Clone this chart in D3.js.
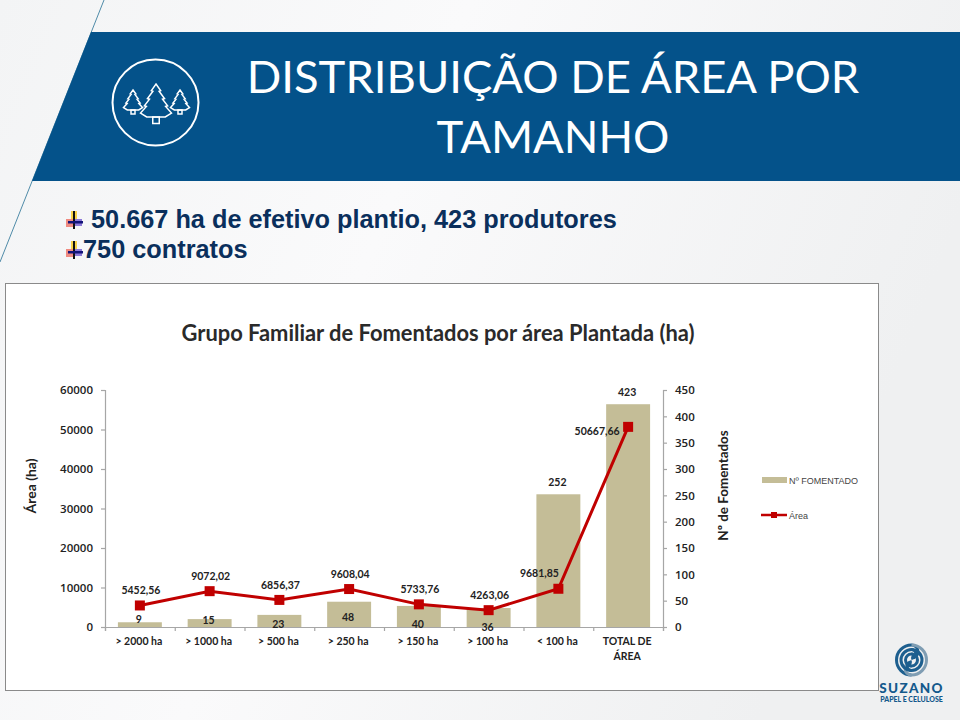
<!DOCTYPE html>
<html>
<head>
<meta charset="UTF-8">
<title>Distribuição de área por tamanho</title>
<script src="https://d3js.org/d3.v7.min.js"></script>
<style>
  html, body { margin: 0; padding: 0; background: #f4f5f6; }
  svg { display: block; }
  text { font-family: Lato, sans-serif; }
</style>
</head>
<body>
<svg id="slide" width="960" height="720"></svg>
<script>
const categories = ["> 2000 ha", "> 1000 ha", "> 500 ha", "> 250 ha", "> 150 ha", "> 100 ha", "< 100 ha", "TOTAL DE ÁREA"];
const fomentados = [9, 15, 23, 48, 40, 36, 252, 423];
const area = [5452.56, 9072.02, 6856.37, 9608.04, 5733.76, 4263.06, 9681.85, 50667.66];
const areaTicks = [0, 10000, 20000, 30000, 40000, 50000, 60000];
const fomentadosTicks = [0, 50, 100, 150, 200, 250, 300, 350, 400, 450];
const titleLines = ["DISTRIBUIÇÃO DE ÁREA POR", "TAMANHO"];
const bullets = ["50.667 ha de efetivo plantio, 423 produtores", "750 contratos"];

// ajustes finos dos rótulos (dx, dy em relação à posição padrão)
const areaLabelShift = { 6: [-19, -1], 7: [-31, 19] };
const barLabelY = { 0: 619, 1: 620, 2: 624, 3: 617, 4: 624, 5: 627 };

const svg = d3.select("#slide");
const defs = svg.append("defs");
const grad = defs.append("linearGradient").attr("id", "bg").attr("x1", 0).attr("x2", 1).attr("y1", 0).attr("y2", 0.3);
grad.append("stop").attr("offset", 0).attr("stop-color", "#f3f4f5");
grad.append("stop").attr("offset", 0.45).attr("stop-color", "#fafafb");
grad.append("stop").attr("offset", 1).attr("stop-color", "#eff0f1");

svg.append("rect").attr("width", 960).attr("height", 720).attr("fill", "url(#bg)");

// faixa do título
svg.append("line").attr("x1", 104).attr("y1", 0).attr("x2", 0).attr("y2", 262)
  .attr("stroke", "#4f8ba8").attr("stroke-width", 1);
svg.append("path").attr("d", "M91,32H960V181H32Z").attr("fill", "#04528a");

svg.selectAll(".titulo").data(titleLines).enter().append("text")
  .attr("class", "titulo")
  .attr("x", 553)
  .attr("y", (d, i) => 93 + i * 60)
  .attr("text-anchor", "middle")
  .attr("fill", "#fff")
  .style("font-weight", 400)
  .style("font-size", "45.4px")
  .text(d => d);

// ícone das árvores
const icon = svg.append("g").attr("fill", "none").attr("stroke", "#fff");
icon.append("circle").attr("cx", 155.5).attr("cy", 102.5).attr("r", 43).attr("stroke-width", 2);
const treeShape = [[0, 0], [.3, .2], [.2, .22], [.55, .44], [.42, .46], [.75, .66], [.62, .68], [1, .88], [.6, 1]];
function tree(cx, y0, halfW, h, trunk) {
  const rightSide = treeShape.map(p => [cx + p[0] * halfW, y0 + p[1] * h]);
  const leftSide = treeShape.slice(1).reverse().map(p => [cx - p[0] * halfW, y0 + p[1] * h]);
  icon.append("path").attr("d", d3.line()(rightSide.concat(leftSide)) + "Z").attr("stroke-width", 1.5);
  icon.append("rect").attr("x", cx - trunk / 2).attr("y", y0 + h).attr("width", trunk).attr("height", trunk)
    .attr("stroke-width", 1.5);
}
tree(156, 84, 15.5, 33, 6.5);
tree(133, 90, 9.5, 20, 4);
tree(180, 90, 9.5, 20, 4);

// marcadores e texto dos tópicos
const bulletRows = svg.selectAll(".topico").data(bullets).enter().append("g")
  .attr("class", "topico")
  .attr("transform", (d, i) => `translate(0,${i * 30})`);
bulletRows.append("rect").attr("x", 71).attr("y", 211).attr("width", 6).attr("height", 9).attr("fill", "#f7d34a");
bulletRows.append("rect").attr("x", 66).attr("y", 219).attr("width", 9).attr("height", 8).attr("fill", "#f08a80");
bulletRows.append("rect").attr("x", 74).attr("y", 219).attr("width", 8).attr("height", 7).attr("fill", "#8d7ad8");
bulletRows.append("rect").attr("x", 73).attr("y", 211).attr("width", 2).attr("height", 18).attr("fill", "#111");
bulletRows.append("rect").attr("x", 68).attr("y", 221).attr("width", 15).attr("height", 2.5).attr("fill", "#14147a");
bulletRows.append("text")
  .attr("x", (d, i) => i === 0 ? 91 : 83)
  .attr("y", 228)
  .attr("fill", "#0a2f5c")
  .style("font-family", "'Liberation Sans', sans-serif")
  .style("font-weight", 700)
  .style("font-size", "25.3px")
  .text(d => d);

// quadro do gráfico
svg.append("rect").attr("x", 5.5).attr("y", 283.5).attr("width", 873).attr("height", 407)
  .attr("fill", "#fff").attr("stroke", "#8a8a8a");

svg.append("text").attr("x", 438).attr("y", 341).attr("text-anchor", "middle")
  .attr("fill", "#2a2a2a")
  .style("font-weight", 700).style("font-size", "21.9px")
  .text("Grupo Familiar de Fomentados por área Plantada (ha)");

const plotLeft = 105, plotRight = 663, plotTop = 390, plotBottom = 627;
const x = d3.scaleBand().domain(categories).range([plotLeft, plotRight]).paddingInner(0.37).paddingOuter(0.185);
const xEdges = d3.scaleLinear().domain([0, categories.length]).range([plotLeft, plotRight]);
const yArea = d3.scaleLinear().domain([0, 60000]).range([plotBottom, plotTop]);
const yFom = d3.scaleLinear().domain([0, 450]).range([plotBottom, plotTop]);
const cx = d => x(d) + x.bandwidth() / 2;

svg.append("g").selectAll("rect").data(fomentados).enter().append("rect")
  .attr("x", (d, i) => x(categories[i]))
  .attr("y", d => yFom(d))
  .attr("width", x.bandwidth())
  .attr("height", d => plotBottom - yFom(d))
  .attr("fill", "#c4bd97");

function styleAxis(g) {
  g.selectAll("path, line").attr("stroke", "#a6a6a6").attr("stroke-width", 1.2);
  g.selectAll("text").attr("fill", "#222").style("font-size", "11.5px").style("font-weight", 600)
    .style("font-family", "'Open Sans', sans-serif");
}

svg.append("g").attr("transform", `translate(${plotLeft},0)`)
  .call(d3.axisLeft(yArea).tickValues(areaTicks).tickSize(4).tickPadding(8).tickFormat(d3.format("d")))
  .call(styleAxis);
svg.append("g").attr("transform", `translate(${plotRight},0)`)
  .call(d3.axisRight(yFom).tickValues(fomentadosTicks).tickSize(4).tickPadding(8).tickFormat(d3.format("d")))
  .call(styleAxis);
svg.append("g").attr("transform", `translate(0,${plotBottom})`)
  .call(d3.axisBottom(xEdges).tickValues(d3.range(categories.length + 1)).tickSize(4).tickFormat(""))
  .call(styleAxis);

// rótulos das categorias, o último quebra em duas linhas
const catLabels = svg.append("g").selectAll("text").data(categories).enter().append("text")
  .attr("text-anchor", "middle")
  .attr("fill", "#222")
  .style("font-size", "10.5px").style("font-weight", 700);
catLabels.each(function(d) {
  const words = d === "TOTAL DE ÁREA" ? ["TOTAL DE", "ÁREA"] : [d];
  d3.select(this).selectAll("tspan").data(words).enter().append("tspan")
    .attr("x", cx(d) - 1)
    .attr("y", (w, i) => 645 + i * 14.5)
    .text(w => w);
});

svg.append("text").attr("transform", "translate(36,486) rotate(-90)").attr("text-anchor", "middle")
  .attr("fill", "#222").style("font-size", "14px").style("font-weight", 700).text("Área (ha)");
svg.append("text").attr("transform", "translate(728,485.5) rotate(-90)").attr("text-anchor", "middle")
  .attr("fill", "#222").style("font-size", "13.4px").style("font-weight", 700).text("Nº de Fomentados");

const line = d3.line().x((d, i) => cx(categories[i])).y(d => yArea(d));
svg.append("path").datum(area).attr("d", line)
  .attr("fill", "none").attr("stroke", "#c00000").attr("stroke-width", 3);
svg.append("g").selectAll("rect").data(area).enter().append("rect")
  .attr("x", (d, i) => cx(categories[i]) - 5)
  .attr("y", d => yArea(d) - 5)
  .attr("width", 10).attr("height", 10)
  .attr("fill", "#c00000");

svg.append("g").selectAll("text").data(area).enter().append("text")
  .attr("x", (d, i) => cx(categories[i]) + (areaLabelShift[i] ? areaLabelShift[i][0] : 1))
  .attr("y", (d, i) => yArea(d) - 11 + (areaLabelShift[i] ? areaLabelShift[i][1] : 0))
  .attr("text-anchor", "middle")
  .attr("fill", "#222")
  .style("font-size", "10.5px").style("font-weight", 700)
  .text(d => d3.format(".2f")(d).replace(".", ","));

svg.append("g").selectAll("text").data(fomentados).enter().append("text")
  .attr("x", (d, i) => cx(categories[i]) - 1)
  .attr("y", (d, i) => barLabelY[i] !== undefined ? barLabelY[i] + 4 : yFom(d) - 8)
  .attr("text-anchor", "middle")
  .attr("fill", "#222")
  .style("font-size", "10.5px").style("font-weight", 700)
  .text(d => d);

// legenda
const legendFont = "'Liberation Sans', sans-serif";
svg.append("rect").attr("x", 762).attr("y", 477).attr("width", 25).attr("height", 6).attr("fill", "#c4bd97");
svg.append("text").attr("x", 789).attr("y", 483.5).attr("fill", "#444")
  .style("font-family", legendFont).style("font-size", "9px").text("Nº FOMENTADO");
svg.append("line").attr("x1", 761).attr("x2", 787).attr("y1", 515).attr("y2", 515)
  .attr("stroke", "#c00000").attr("stroke-width", 2.5);
svg.append("rect").attr("x", 771).attr("y", 512).attr("width", 6).attr("height", 6).attr("fill", "#c00000");
svg.append("text").attr("x", 789).attr("y", 518.5).attr("fill", "#444")
  .style("font-family", legendFont).style("font-size", "9px").text("Área");

// logotipo: duas metades em espiral, a segunda é a primeira girada
const logo = svg.append("g").attr("transform", "translate(911.5,660)").attr("fill", "none").attr("stroke-width", 3);
function swirl(r) {
  const q = (r - 2) / 2;
  return `M0,${r}A${r},${r} 0 0 1 0,${-r}A${q},${q} 0 0 1 0,-2`;
}
[15, 10.5, 6].forEach((r, i) => {
  logo.append("path").attr("d", swirl(r)).attr("stroke", "#1d5f8f");
  logo.append("path").attr("d", swirl(r)).attr("transform", "rotate(180)")
    .attr("stroke", i === 0 ? "#7f9db3" : "#1d5f8f");
});
svg.append("text").attr("x", 911.5).attr("y", 692.5).attr("text-anchor", "middle").attr("fill", "#14598c")
  .style("font-weight", 900).style("font-size", "13.5px")
  .attr("letter-spacing", "1.3").text("SUZANO");
svg.append("text").attr("x", 911.5).attr("y", 702).attr("text-anchor", "middle").attr("fill", "#14598c")
  .style("font-weight", 900).style("font-size", "7px")
  .text("PAPEL E CELULOSE");
</script>
</body>
</html>
